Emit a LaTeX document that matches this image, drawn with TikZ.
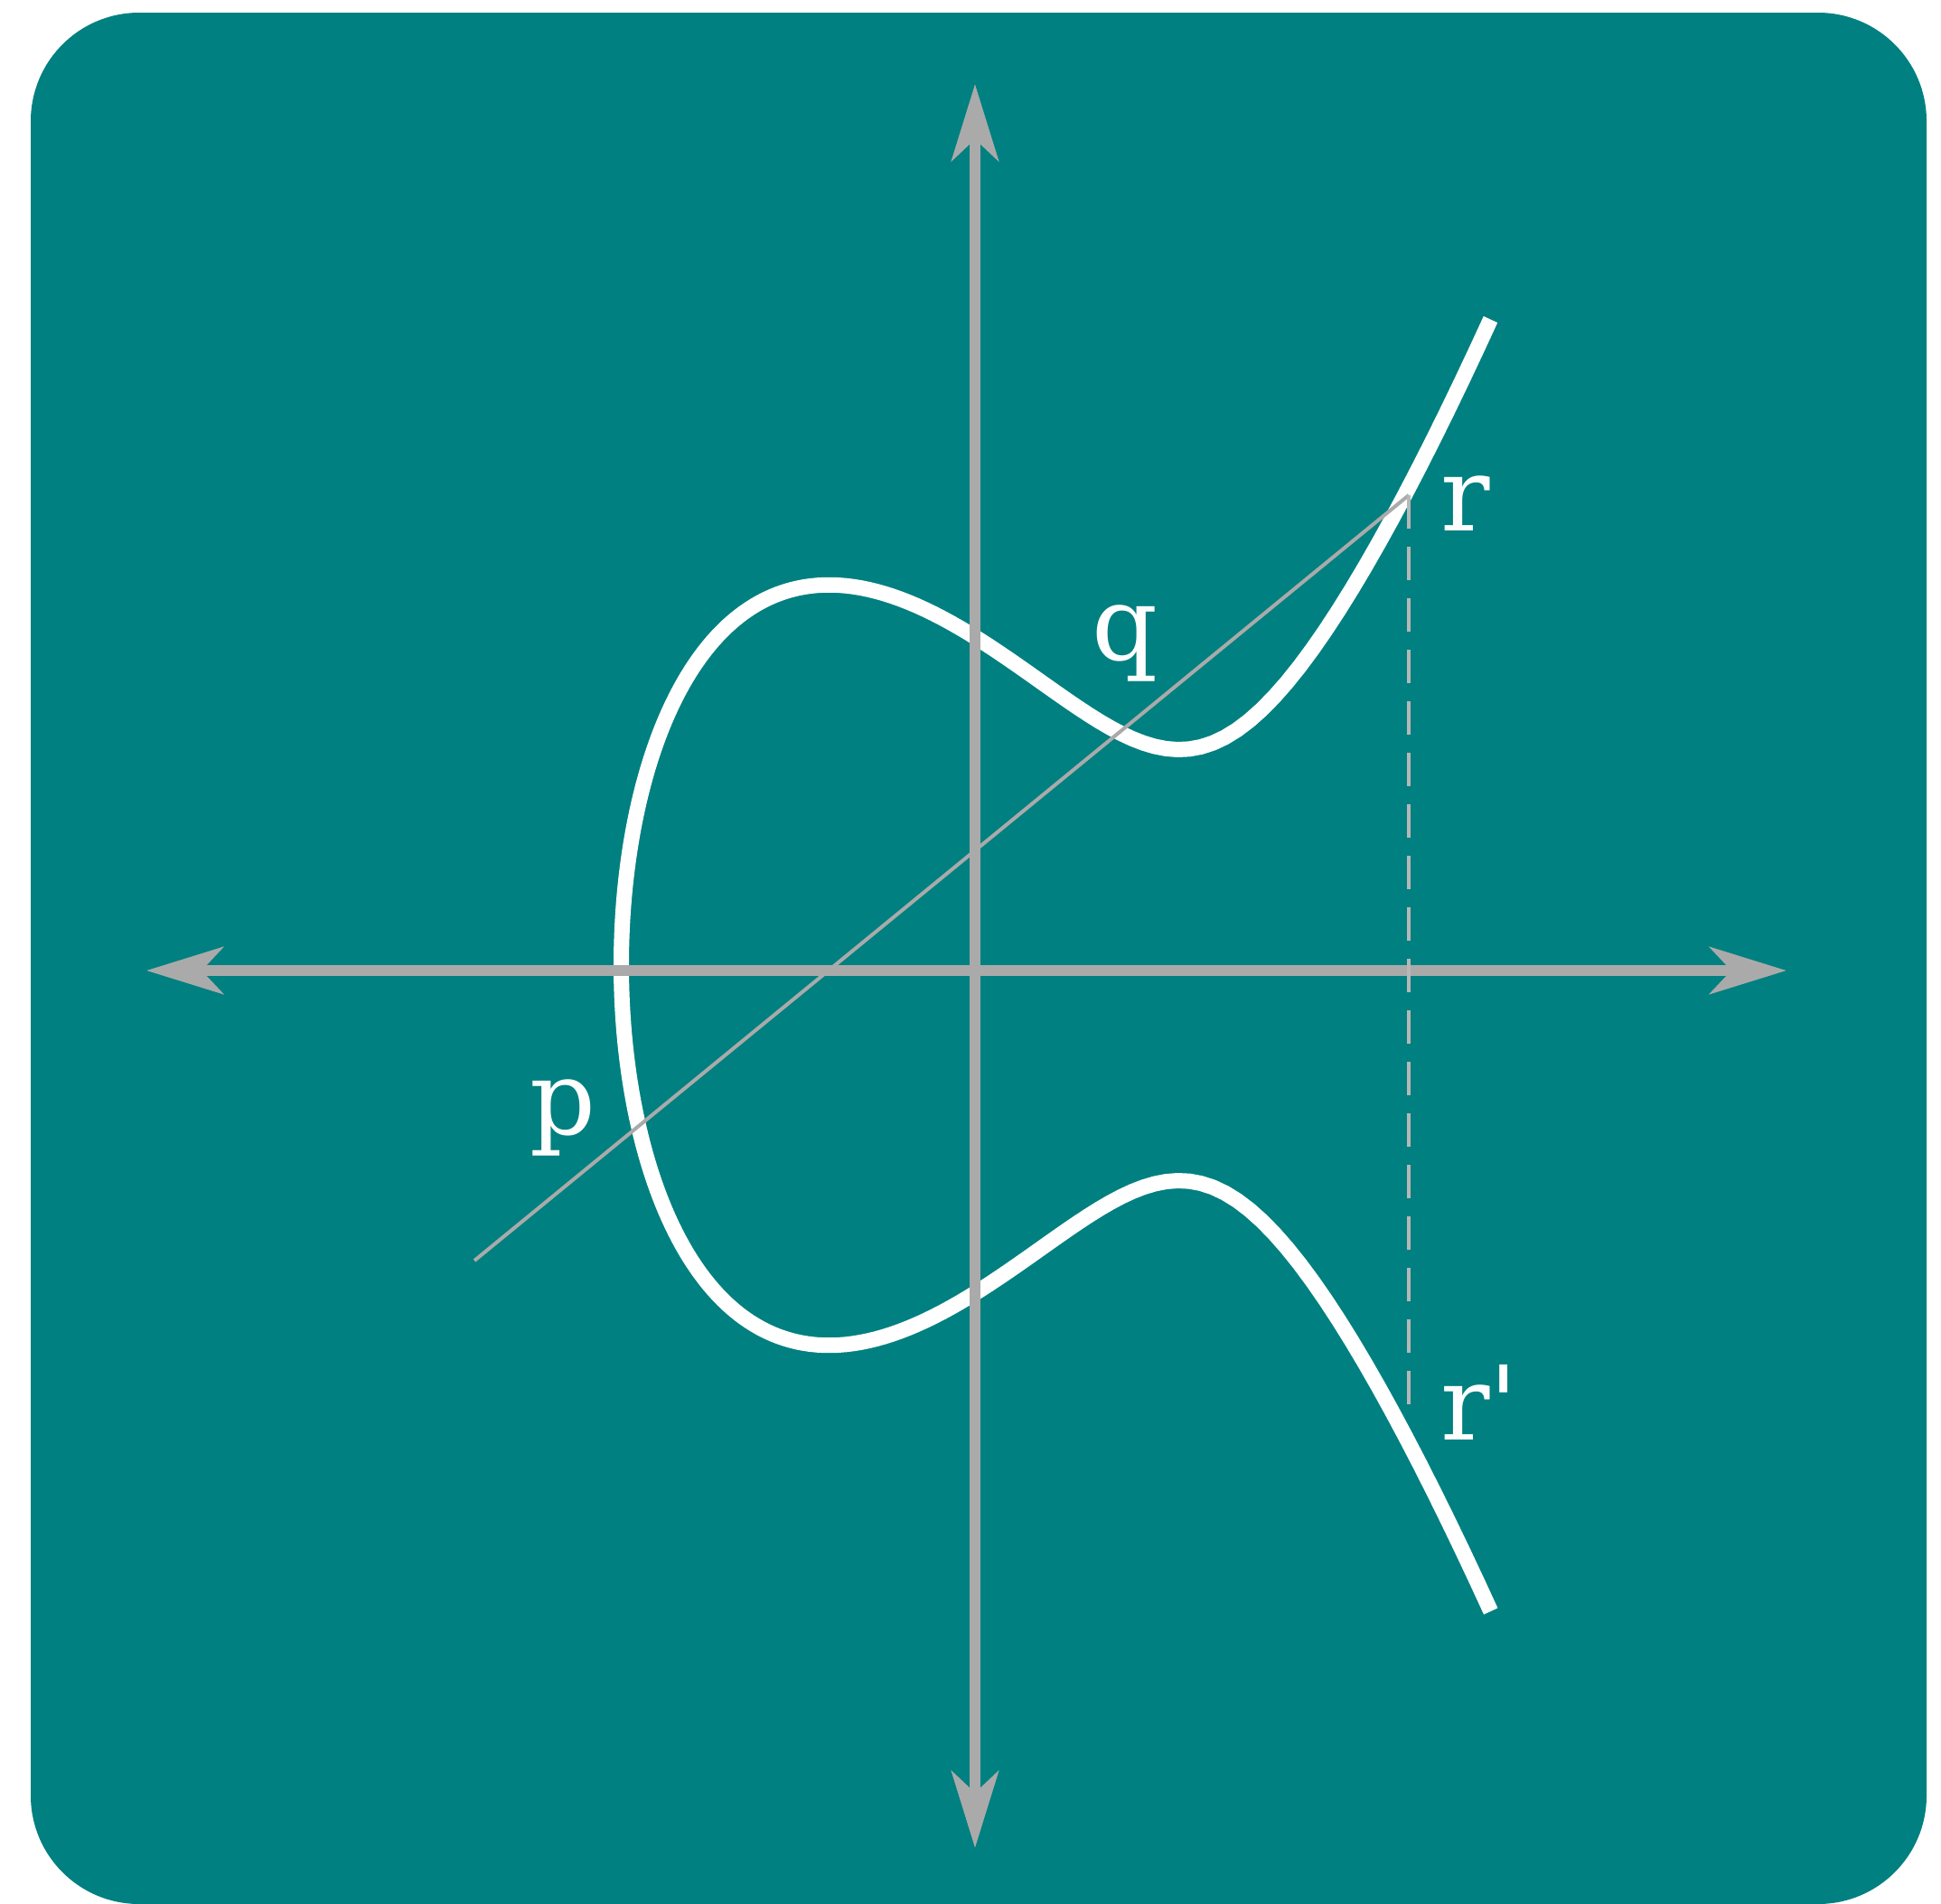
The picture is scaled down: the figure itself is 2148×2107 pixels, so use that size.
\documentclass[tikz,border=0pt]{standalone}
\usepackage{fontspec}
\setmainfont{DejaVu Serif}
\newfontfamily\lblfont{DejaVu Serif}[Ligatures=TeXOff]
\usetikzlibrary{arrows.meta}
\definecolor{bgteal}{RGB}{0,128,128}
\definecolor{axisgray}{RGB}{170,170,170}
\begin{document}
\begin{tikzpicture}[x=1pt,y=-1pt,
  axis/.style={draw=axisgray, line width=12pt,
    {Stealth[length=85pt,width=52pt,inset=24pt]}-{Stealth[length=85pt,width=52pt,inset=24pt]}},
  curvestyle/.style={draw=white, line width=17pt},
  chord/.style={draw=axisgray, line width=4pt},
  dashline/.style={draw=axisgray!85!white, line width=4pt, dash pattern=on 37pt off 20pt},
  lbl/.style={text=white, inner sep=0pt, anchor=base west, font=\lblfont\fontsize{114}{136}\selectfont},
  declare function={ex(\t)=-3.915+\t*\t;
    ey(\t)=\t*sqrt(0.4128*(ex(\t)*ex(\t)-4.881*ex(\t)+8.155));}]
\useasboundingbox (0,0) rectangle (2148,2107);
\fill[bgteal, rounded corners=120pt] (34,14) rectangle (2132,2107);
% curve
\begin{scope}[shift={(1079,1068)}, x=100pt, y=100pt]
  \draw[curvestyle] plot[domain=-3.102:3.102, samples=241, variable=\t] ({ex(\t)},{ey(\t)});
\end{scope}
% axes
\coordinate (xl) at (162,1074);
\coordinate (xr) at (1977,1074);
\coordinate (yt) at (1079,93);
\coordinate (yb) at (1079,2045);
\draw[axis] (xl) -- (xr);
\draw[axis] (yb) -- (yt);
% chord and reflection
\coordinate (pend) at (525,1395);
\coordinate (r) at (1559,548);
\coordinate (rp) at (1559,1573);
\draw[chord] (pend) -- (r);
\draw[dashline] (r) -- (rp);
% labels
\node[lbl] (lr) at (1594,587) {r};
\node[lbl] (lrp) at (1594,1593) {r'};
\node[lbl] (lp) at (586,1255) {p};
\node[lbl] (lq) at (1208,730) {q};
\end{tikzpicture}
\end{document}
